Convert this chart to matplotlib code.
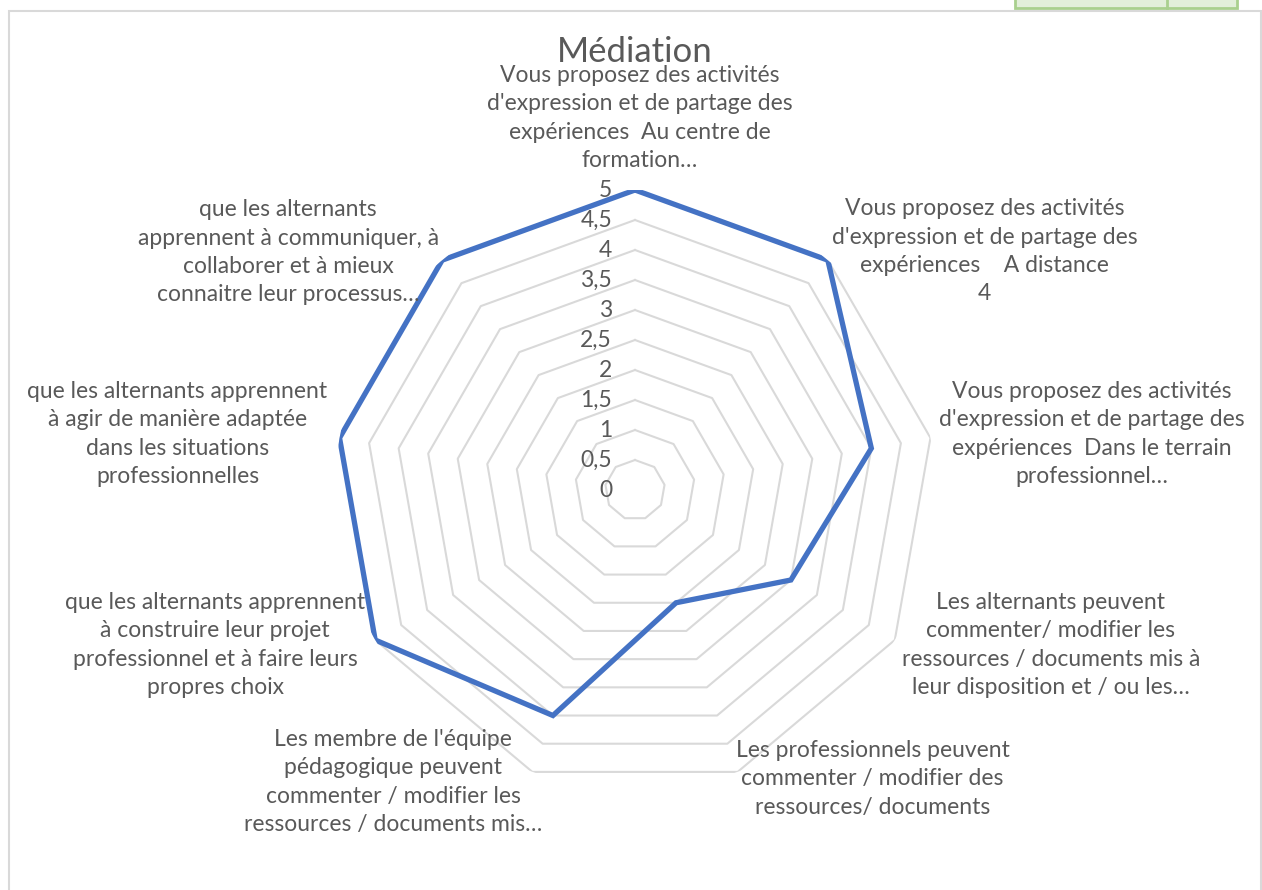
import numpy as np
import matplotlib.pyplot as plt
from matplotlib.patches import Rectangle

categories = [
    "Vous proposez des activités\nd'expression et de partage des\nexpériences  Au centre de\nformation…",
    "Vous proposez des activités\nd'expression et de partage des\nexpériences    A distance\n4",
    "Vous proposez des activités\nd'expression et de partage des\nexpériences  Dans le terrain\nprofessionnel…",
    "Les alternants peuvent\ncommenter/ modifier les\nressources / documents mis à\nleur disposition et / ou les…",
    "Les professionnels peuvent\ncommenter / modifier des\nressources/ documents",
    "Les membre de l'équipe\npédagogique peuvent\ncommenter / modifier les\nressources / documents mis…",
    "que les alternants apprennent\nà construire leur projet\nprofessionnel et à faire leurs\npropres choix",
    "que les alternants apprennent\nà agir de manière adaptée\ndans les situations\nprofessionnelles",
    "que les alternants\napprennent à communiquer, à\ncollaborer et à mieux\nconnaitre leur processus…",
]
values = [5, 5, 4, 3, 2, 4, 5, 5, 5]
ring_levels = np.arange(0, 5.01, 0.5)
ring_labels = ["0", "0,5", "1", "1,5", "2", "2,5", "3", "3,5", "4", "4,5", "5"]

# label offsets from the end of each spoke, in pixels
label_offsets = [(5, 72), (157, 9), (161, 4), (156, -5), (135, -7),
                 (-139, -10), (-160, -5), (-162, 4), (-154, 8)]

plt.rcParams['font.family'] = ['Lato', 'DejaVu Sans']
text_color = '#595959'
grid_color = '#d9d9d9'

W, H = 1262, 890
fig = plt.figure(figsize=(W / 100, H / 100), dpi=100)

# chart frame and the spreadsheet cell peeking in above it
fig.patches.append(Rectangle((8.5 / W, -0.05), (1261 - 8.5) / W, (H - 10.5) / H + 0.05,
                             transform=fig.transFigure, fill=False,
                             edgecolor=grid_color, linewidth=1.5))
fig.patches.append(Rectangle((1015 / W, (H - 8) / H), (1237 - 1015) / W, 10 / H,
                             transform=fig.transFigure, facecolor='#e2efda',
                             edgecolor='#a9d08e', linewidth=2))
fig.lines.append(plt.Line2D([1167 / W, 1167 / W], [(H - 8) / H, 1],
                            transform=fig.transFigure, color='#a9d08e', linewidth=2))

cx, cy, R = 635, 490, 300
ax = fig.add_axes([(cx - R) / W, (H - cy - R) / H, 2 * R / W, 2 * R / H],
                  projection='polar')
ax.set_theta_zero_location('N')
ax.set_theta_direction(-1)
ax.set_ylim(0, 5)
ax.set_axis_off()

n = len(categories)
theta = np.linspace(0, 2 * np.pi, n, endpoint=False)
theta_closed = np.append(theta, theta[0])

# polygonal grid rings
for lvl in ring_levels[1:]:
    ax.plot(theta_closed, np.full(n + 1, lvl), color=grid_color, linewidth=1.5, zorder=1)

ax.plot(theta_closed, values + values[:1], color='#4472c4', linewidth=3.8,
        solid_joinstyle='miter', zorder=3)

for lvl, lab in zip(ring_levels, ring_labels):
    ax.annotate(lab, xy=(0, lvl), xytext=(-23, 0), textcoords='offset pixels',
                ha='right', va='center', fontsize=16.5, color=text_color)

for t, lab, (ox, oy) in zip(theta, categories, label_offsets):
    ax.annotate(lab, xy=(t, 5), xytext=(ox, oy), textcoords='offset pixels',
                ha='center', va='center', multialignment='center',
                fontsize=16.5, color=text_color, linespacing=1.43)

fig.text(cx / W, 1 - 52 / H, "Médiation", ha='center', va='center',
         fontsize=25, color=text_color)

fig.savefig("out.png", dpi=100, facecolor='white')
